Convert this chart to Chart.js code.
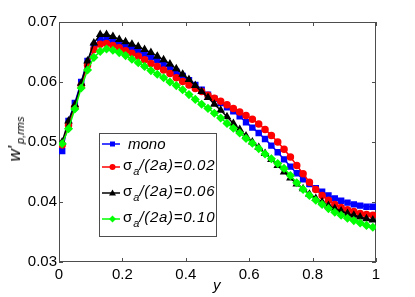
<!DOCTYPE html>
<html>
<head>
    <style>
        body { margin: 0; background: #fff; }
        #wrap { position: relative; width: 415px; height: 297px; font-family: "Liberation Sans", Arial, sans-serif; color: #000; }
        #legend { position: absolute; left: 99px; top: 133px; width: 116px; height: 102px; border: 1px solid #4d4d4d; background: #fff; }
        .row { position: absolute; left: 0; height: 20px; width: 116px; }
        .row svg { position: absolute; left: 1px; top: 3px; }
        .row .txt { position: absolute; font-size: 15px; white-space: nowrap; line-height: 20px; }
        .txt i { font-style: italic; letter-spacing: 0.7px; }
        .txt i.plain { letter-spacing: 0; }
        .txt sub { font-size: 11px; font-style: italic; vertical-align: -5px; line-height: 0; margin-left: 1px; }
        #ytitle { position: absolute; left: 15px; top: 139px; transform: translate(-50%, -50%) rotate(-90deg); font-size: 17px; font-style: italic; white-space: nowrap; }
        #ytitle sub { font-size: 11px; vertical-align: -4px; line-height: 0; margin-left: 2px; }
        #xtitle { position: absolute; left: 213px; top: 276px; font-size: 15px; font-style: italic; }
    </style>
    <script src="https://cdn.jsdelivr.net/npm/chart.js"></script>
</head>
<body>
<div id="wrap">
    <canvas id="myChart" width="415" height="297"></canvas>
    <div id="ytitle">w'<sub>p,rms</sub></div>
    <div id="xtitle">y</div>
    <div id="legend">
        <div class="row" style="top:0px">
            <svg width="20" height="14"><line x1="1" y1="7" x2="19" y2="7" stroke="#0000ff" stroke-width="1.5"/><rect x="9" y="4.5" width="5" height="5" fill="#0000ff"/></svg>
            <span class="txt" style="top:0px; left:28px"><i class="plain">mono</i></span>
        </div>
        <div class="row" style="top:23px">
            <svg width="20" height="14"><line x1="1" y1="7" x2="19" y2="7" stroke="#ff0000" stroke-width="1.5"/><circle cx="11.5" cy="7" r="3" fill="#ff0000"/></svg>
            <span class="txt" style="top:-2px; left:23px">σ<sub>a</sub><i>/(2a)=0.02</i></span>
        </div>
        <div class="row" style="top:49px">
            <svg width="20" height="14"><line x1="1" y1="7" x2="19" y2="7" stroke="#000000" stroke-width="1.5"/><polygon points="11.5,3.5 15,9.5 8,9.5" fill="#000000"/></svg>
            <span class="txt" style="top:-2px; left:23px">σ<sub>a</sub><i>/(2a)=0.06</i></span>
        </div>
        <div class="row" style="top:75px">
            <svg width="20" height="14"><line x1="1" y1="7" x2="19" y2="7" stroke="#00ff00" stroke-width="1.5"/><polygon points="11.5,3.5 15,7 11.5,10.5 8,7" fill="#00ff00"/></svg>
            <span class="txt" style="top:-2px; left:23px">σ<sub>a</sub><i>/(2a)=0.10</i></span>
        </div>
    </div>
</div>
<script>
    // positions along y (x axis of the plot)
    var yPos = [0.01, 0.03, 0.05, 0.07, 0.09, 0.11, 0.13, 0.15, 0.17, 0.19,
                0.21, 0.23, 0.25, 0.27, 0.29, 0.31, 0.33, 0.35, 0.37, 0.39,
                0.41, 0.43, 0.45, 0.47, 0.49, 0.51, 0.53, 0.55, 0.57, 0.59,
                0.61, 0.63, 0.65, 0.67, 0.69, 0.71, 0.73, 0.75, 0.77, 0.79,
                0.81, 0.83, 0.85, 0.87, 0.89, 0.91, 0.93, 0.95, 0.97, 0.99];

    var mono = [0.0485, 0.0535, 0.0565, 0.0600, 0.0635, 0.0660, 0.0671, 0.0670, 0.0667, 0.0663,
                0.0659, 0.0655, 0.0651, 0.0646, 0.0641, 0.0636, 0.0630, 0.0624, 0.0617, 0.0610,
                0.0603, 0.0595, 0.0587, 0.0579, 0.0572, 0.0565, 0.0558, 0.0551, 0.0543, 0.0533,
                0.0524, 0.0515, 0.0505, 0.0494, 0.0483, 0.0471, 0.0459, 0.0448, 0.0438, 0.0430,
                0.0423, 0.0417, 0.0411, 0.0406, 0.0402, 0.0399, 0.0396, 0.0394, 0.0392, 0.0392];

    var sig002 = [0.0495, 0.0528, 0.0558, 0.0594, 0.0628, 0.0654, 0.0663, 0.0664, 0.0661, 0.0657,
                  0.0652, 0.0648, 0.0643, 0.0637, 0.0631, 0.0626, 0.0620, 0.0614, 0.0607, 0.0601,
                  0.0595, 0.0589, 0.0584, 0.0578, 0.0573, 0.0568, 0.0562, 0.0556, 0.0550, 0.0544,
                  0.0538, 0.0530, 0.0521, 0.0511, 0.0500, 0.0488, 0.0475, 0.0461, 0.0447, 0.0433,
                  0.0421, 0.0411, 0.0403, 0.0396, 0.0391, 0.0387, 0.0384, 0.0381, 0.0379, 0.0378];

    var sig006 = [0.0500, 0.0535, 0.0562, 0.0598, 0.0635, 0.0665, 0.0679, 0.0679, 0.0676, 0.0671,
                  0.0667, 0.0663, 0.0659, 0.0654, 0.0649, 0.0643, 0.0637, 0.0630, 0.0622, 0.0613,
                  0.0604, 0.0594, 0.0584, 0.0574, 0.0563, 0.0553, 0.0542, 0.0531, 0.0521, 0.0510,
                  0.0500, 0.0491, 0.0481, 0.0471, 0.0461, 0.0450, 0.0440, 0.0430, 0.0422, 0.0413,
                  0.0406, 0.0400, 0.0394, 0.0389, 0.0385, 0.0381, 0.0378, 0.0375, 0.0372, 0.0370];

    var sig010 = [0.0497, 0.0522, 0.0555, 0.0590, 0.0620, 0.0641, 0.0651, 0.0655, 0.0653, 0.0649,
                  0.0644, 0.0638, 0.0632, 0.0626, 0.0619, 0.0613, 0.0607, 0.0600, 0.0594, 0.0587,
                  0.0579, 0.0571, 0.0563, 0.0556, 0.0548, 0.0540, 0.0531, 0.0523, 0.0515, 0.0506,
                  0.0498, 0.0489, 0.0480, 0.0472, 0.0464, 0.0456, 0.0444, 0.0432, 0.0421, 0.0411,
                  0.0403, 0.0396, 0.0389, 0.0383, 0.0378, 0.0373, 0.0369, 0.0365, 0.0361, 0.0358];

    var xTicks = [0, 0.2, 0.4, 0.6, 0.8, 1];
    var xLabels = ['0', '0.2', '0.4', '0.6', '0.8', '1'];
    var yTicks = [0.03, 0.04, 0.05, 0.06, 0.07];
    var yLabels = ['0.03', '0.04', '0.05', '0.06', '0.07'];

    function pts(vals) {
        return vals.map(function (v, i) { return { x: yPos[i], y: v }; });
    }

    // box round the plot with inward ticks on all four sides
    var frame = {
        id: 'frame',
        beforeDatasetsDraw: function (chart) {
            var c = chart.ctx, a = chart.chartArea, sx = chart.scales.x, sy = chart.scales.y;
            c.save();
            c.strokeStyle = '#4d4d4d';
            c.lineWidth = 1;
            c.strokeRect(a.left + 0.5, a.top + 0.5, a.right - a.left - 1, a.bottom - a.top - 1);
            c.beginPath();
            sx.ticks.forEach(function (t) {
                var px = Math.round(sx.getPixelForValue(t.value)) + 0.5;
                c.moveTo(px, a.bottom); c.lineTo(px, a.bottom - 4);
                c.moveTo(px, a.top); c.lineTo(px, a.top + 4);
            });
            sy.ticks.forEach(function (t) {
                var py = Math.round(sy.getPixelForValue(t.value)) + 0.5;
                c.moveTo(a.left, py); c.lineTo(a.left + 4, py);
                c.moveTo(a.right, py); c.lineTo(a.right - 4, py);
            });
            c.stroke();
            c.restore();
        }
    };

    var tickFont = { family: '"Liberation Sans", Arial, sans-serif', size: 15 };

    var ctx = document.getElementById('myChart').getContext('2d');
    var myChart = new Chart(ctx, {
        type: 'line',
        data: {
            datasets: [
                { label: 'mono', data: pts(mono), borderColor: '#0000ff', backgroundColor: '#0000ff',
                  pointStyle: 'rect', pointRadius: 3.5, borderWidth: 1.5, order: 3 },
                { label: 'σa/(2a)=0.02', data: pts(sig002), borderColor: '#ff0000', backgroundColor: '#ff0000',
                  pointStyle: 'circle', pointRadius: 3, borderWidth: 1.5, order: 2 },
                { label: 'σa/(2a)=0.06', data: pts(sig006), borderColor: '#000000', backgroundColor: '#000000',
                  pointStyle: 'triangle', pointRadius: 3.5, borderWidth: 1.5, order: 1 },
                { label: 'σa/(2a)=0.10', data: pts(sig010), borderColor: '#00ff00', backgroundColor: '#00ff00',
                  pointStyle: 'rectRot', pointRadius: 3.5, borderWidth: 1.5, order: 0 }
            ]
        },
        options: {
            responsive: false,
            animation: false,
            layout: { padding: { top: 22, right: 39, left: 0, bottom: 0 } },
            elements: { point: { borderWidth: 0 }, line: { tension: 0 } },
            plugins: { legend: { display: false }, tooltip: { enabled: false } },
            scales: {
                x: {
                    type: 'linear', min: 0, max: 1,
                    grid: { display: false, drawTicks: false },
                    border: { display: false },
                    afterBuildTicks: function (s) { s.ticks = xTicks.map(function (v) { return { value: v }; }); },
                    afterFit: function (s) { s.height = 35; },
                    ticks: { padding: 4, color: '#000', font: tickFont, maxRotation: 0, autoSkip: false,
                             callback: function (v, i) { return xLabels[i]; } }
                },
                y: {
                    type: 'linear', min: 0.03, max: 0.07,
                    grid: { display: false, drawTicks: false },
                    border: { display: false },
                    afterBuildTicks: function (s) { s.ticks = yTicks.map(function (v) { return { value: v }; }); },
                    afterFit: function (s) { s.width = 59; },
                    ticks: { padding: 2, color: '#000', font: tickFont, autoSkip: false,
                             callback: function (v, i) { return yLabels[i]; } }
                }
            }
        },
        plugins: [frame]
    });
</script>
</body>
</html>
